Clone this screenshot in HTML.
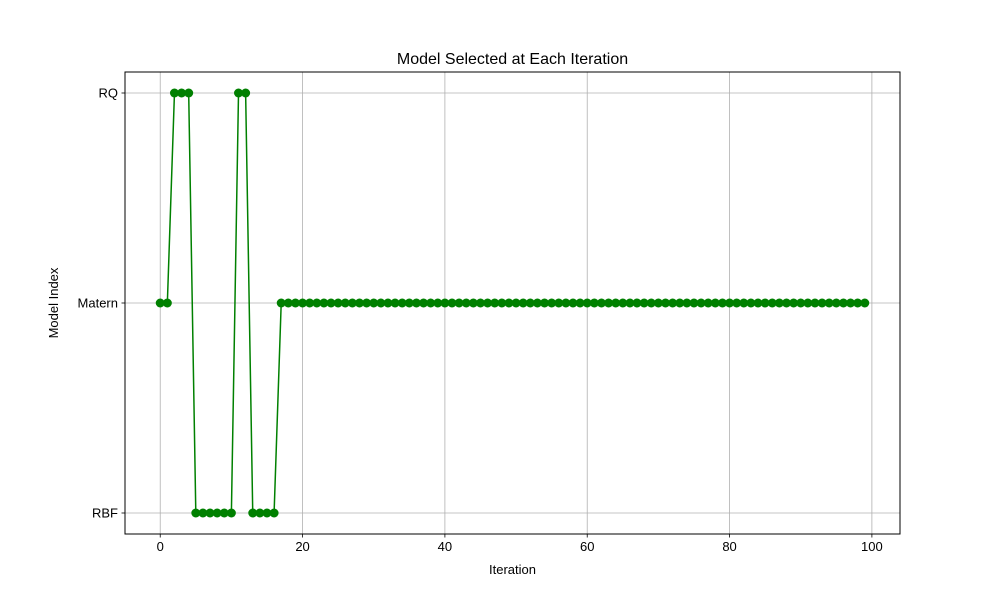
<!DOCTYPE html>
<html><head><meta charset="utf-8"><style>
body{margin:0;background:#fff;}
svg text{font-family:"Liberation Sans","DejaVu Sans",sans-serif;fill:#000;}
</style></head><body>
<svg id="chart" width="1000" height="600" viewBox="0 0 1000 600">
<rect x="0" y="0" width="1000" height="600" fill="#fff"/>
<g id="grid"></g>
<g id="ticks"></g>
<g id="series"></g>
<rect x="125" y="72" width="775" height="462" fill="none" stroke="#000" stroke-width="1"/>
<text x="512.5" y="64" font-size="16" text-anchor="middle">Model Selected at Each Iteration</text>
<text x="512.5" y="574" font-size="13" text-anchor="middle">Iteration</text>
<text x="58" y="303" font-size="13" text-anchor="middle" transform="rotate(-90 58 303)">Model Index</text>
</svg>
<script>
const categories = ["RBF", "Matern", "RQ"];
const xTicks = [0, 20, 40, 60, 80, 100];
const values = [1,1,2,2,2,0,0,0,0,0,0,2,2,0,0,0,0,
1,1,1,1,1,1,1,1,1,1,
1,1,1,1,1,1,1,1,1,1,
1,1,1,1,1,1,1,1,1,1,
1,1,1,1,1,1,1,1,1,1,
1,1,1,1,1,1,1,1,1,1,
1,1,1,1,1,1,1,1,1,1,
1,1,1,1,1,1,1,1,1,1,
1,1,1,1,1,1,1,1,1,1,
1,1,1];

const L=125,R=900,T=72,B=534;
const n=values.length;
const xmin=-0.05*(n-1), xmax=(n-1)*1.05;
const ymin=-0.1, ymax=(categories.length-1)+0.1;
const sx=v=>L+(v-xmin)/(xmax-xmin)*(R-L);
const sy=v=>B-(v-ymin)/(ymax-ymin)*(B-T);
const NS="http://www.w3.org/2000/svg";
function mk(tag,attrs,parent){const e=document.createElementNS(NS,tag);for(const k in attrs)e.setAttribute(k,attrs[k]);parent.appendChild(e);return e;}
const grid=document.getElementById('grid'), ticks=document.getElementById('ticks'), series=document.getElementById('series');

xTicks.forEach(t=>{
  const x=sx(t);
  const g=mk('line',{x1:x,x2:x,y1:T,y2:B,stroke:'#b0b0b0','stroke-width':0.8},grid);
  
  
  const tk=mk('line',{x1:x,x2:x,y1:B,y2:B+3.5,stroke:'#000','stroke-width':0.8},ticks);
  
  
  const tx=mk('text',{x:x,y:B+17,'font-size':13,'text-anchor':'middle'},ticks);
  tx.textContent=t;
  
  
});
categories.forEach((c,i)=>{
  const y=sy(i);
  const g=mk('line',{x1:L,x2:R,y1:y,y2:y,stroke:'#b0b0b0','stroke-width':0.8},grid);
  
  
  const tk=mk('line',{x1:L-3.5,x2:L,y1:y,y2:y,stroke:'#000','stroke-width':0.8},ticks);
  
  
  const tx=mk('text',{x:L-7,y:y+4.5,'font-size':13,'text-anchor':'end'},ticks);
  tx.textContent=c;
  
  
});
const pts=values.map((v,i)=>sx(i)+','+sy(v)).join(' ');
const line=mk('polyline',{points:pts,fill:'none',stroke:'#008000','stroke-width':1.5},series);


values.forEach((v,i)=>{
  const c=mk('circle',{cx:sx(i),cy:sy(v),r:4.5,fill:'#008000'},series);
  
  
});
</script>
</body></html>
